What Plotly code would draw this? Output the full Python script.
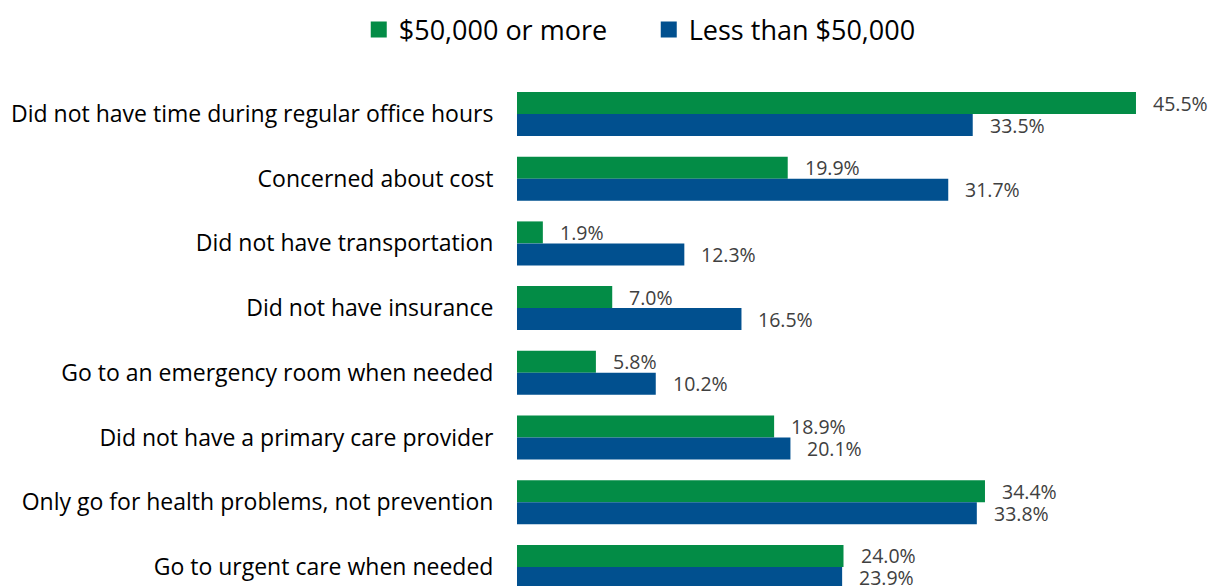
import plotly.graph_objects as go

categories = [
    "Did not have time during regular office hours",
    "Concerned about cost",
    "Did not have transportation",
    "Did not have insurance",
    "Go to an emergency room when needed",
    "Did not have a primary care provider",
    "Only go for health problems, not prevention",
    "Go to urgent care when needed",
]
income_50k_plus = [45.5, 19.9, 1.9, 7.0, 5.8, 18.9, 34.4, 24.0]
income_under_50k = [33.5, 31.7, 12.3, 16.5, 10.2, 20.1, 33.8, 23.9]

series = [
    ("$50,000 or more", income_50k_plus, "#038C46"),
    ("Less than $50,000", income_under_50k, "#01508F"),
]

FONT = "Open Sans"
fig = go.Figure()

for name, vals, color in series:
    fig.add_trace(go.Bar(
        y=categories, x=vals, orientation="h", name=name,
        marker=dict(color=color, line=dict(width=0)),
        showlegend=False, hoverinfo="x+y",
    ))
    # legend entry with a larger square swatch
    fig.add_trace(go.Scatter(
        x=[None], y=[None], mode="markers", name=name,
        marker=dict(symbol="square", size=16, color=color),
        showlegend=True,
    ))

# value labels placed just past each bar end
annotations = []
for (name, vals, color), shift in zip(series, (-11, 11)):
    for cat, v in zip(categories, vals):
        annotations.append(dict(
            x=v, y=cat, xref="x", yref="y", text=f"{v:.1f}%",
            showarrow=False, xanchor="left", yanchor="middle",
            xshift=16, yshift=-shift, borderpad=0,
            font=dict(family=FONT, size=19.5, color="#404040"),
        ))

fig.update_layout(
    width=1212, height=586,
    margin=dict(l=517, r=0, t=82, b=0),
    paper_bgcolor="white", plot_bgcolor="white",
    barmode="group", bargap=0.32, bargroupgap=0,
    font=dict(family=FONT, color="#000000"),
    legend=dict(
        orientation="h", xref="container", yref="container",
        x=0.296, y=1 - 30 / 586, xanchor="left", yanchor="middle",
        font=dict(family=FONT, size=27, color="#000000"),
        itemwidth=30, traceorder="normal",
        entrywidth=245, entrywidthmode="pixels",
    ),
    annotations=annotations,
    xaxis=dict(
        range=[0, 695 / 13.604], visible=False, fixedrange=True,
    ),
    yaxis=dict(
        categoryorder="array", categoryarray=categories,
        range=[7.295, -0.4946],
        showline=False, showgrid=False, zeroline=False,
        ticks="outside", ticklen=18, tickcolor="rgba(0,0,0,0)",
        tickfont=dict(family=FONT, size=23, color="#000000"),
    ),
)

fig.write_html("out.html")
